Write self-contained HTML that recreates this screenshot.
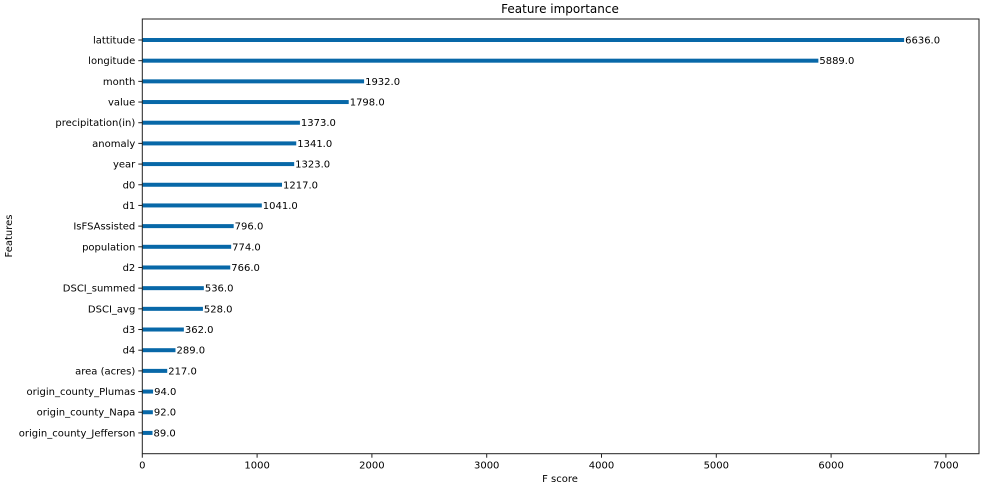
<!DOCTYPE html>
<html><head><meta charset="utf-8"><style>
body{margin:0;background:#fff;}
svg text{font-family:"DejaVu Sans","Liberation Sans",sans-serif;font-size:10px;fill:#000;}
</style></head><body>
<svg id="chart" width="984" height="488">
<text x="560" y="13" text-anchor="middle" style="font-size:12px">Feature importance</text>
<text x="560" y="482" text-anchor="middle">F score</text>
<text x="12" y="236" text-anchor="middle" transform="rotate(-90 12 236)">Features</text>
<g id="marks"></g>
<rect x="142.3" y="19" width="836.7" height="434.7" fill="none" stroke="#222" stroke-width="1"/>
</svg>
<script>
const features=["lattitude","longitude","month","value","precipitation(in)","anomaly","year","d0","d1","IsFSAssisted","population","d2","DSCI_summed","DSCI_avg","d3","d4","area (acres)","origin_county_Plumas","origin_county_Napa","origin_county_Jefferson"];
const scores=[6636,5889,1932,1798,1373,1341,1323,1217,1041,796,774,766,536,528,362,289,217,94,92,89];
const xTicks=[0,1000,2000,3000,4000,5000,6000,7000];
const X0=142.3,PX=0.1148,Y0=40,DY=20.68,BOTTOM=453.7;
const xs=v=>X0+v*PX, ys=i=>Y0+i*DY;
const g=document.getElementById('marks');
const NS='http://www.w3.org/2000/svg';
function mk(t,a){const e=document.createElementNS(NS,t);for(const k in a)e.setAttribute(k,a[k]);return e;}
xTicks.forEach(t=>{
  const l=mk('line',{x1:xs(t),x2:xs(t),y1:BOTTOM,y2:BOTTOM+4,stroke:'#222'});
  
  
  g.appendChild(l);
  const tx=mk('text',{x:xs(t),y:BOTTOM+15,'text-anchor':'middle'});tx.textContent=t;
  
  
  g.appendChild(tx);
});
features.forEach((f,i)=>{
  const y=ys(i);
  const tk=mk('line',{x1:X0-4,x2:X0,y1:y,y2:y,stroke:'#222'});
  
  
  g.appendChild(tk);
  const lb=mk('text',{x:X0-7,y:y+3.5,'text-anchor':'end'});lb.textContent=f;
  
  
  g.appendChild(lb);
  const b=mk('rect',{x:X0,y:y-2,width:xs(scores[i])-X0,height:4,fill:'#0868a8'});
  
  
  g.appendChild(b);
  const v=mk('text',{x:xs(scores[i])+1,y:y+3.5});v.textContent=scores[i].toFixed(1);
  
  
  g.appendChild(v);
});
</script>
</body></html>
